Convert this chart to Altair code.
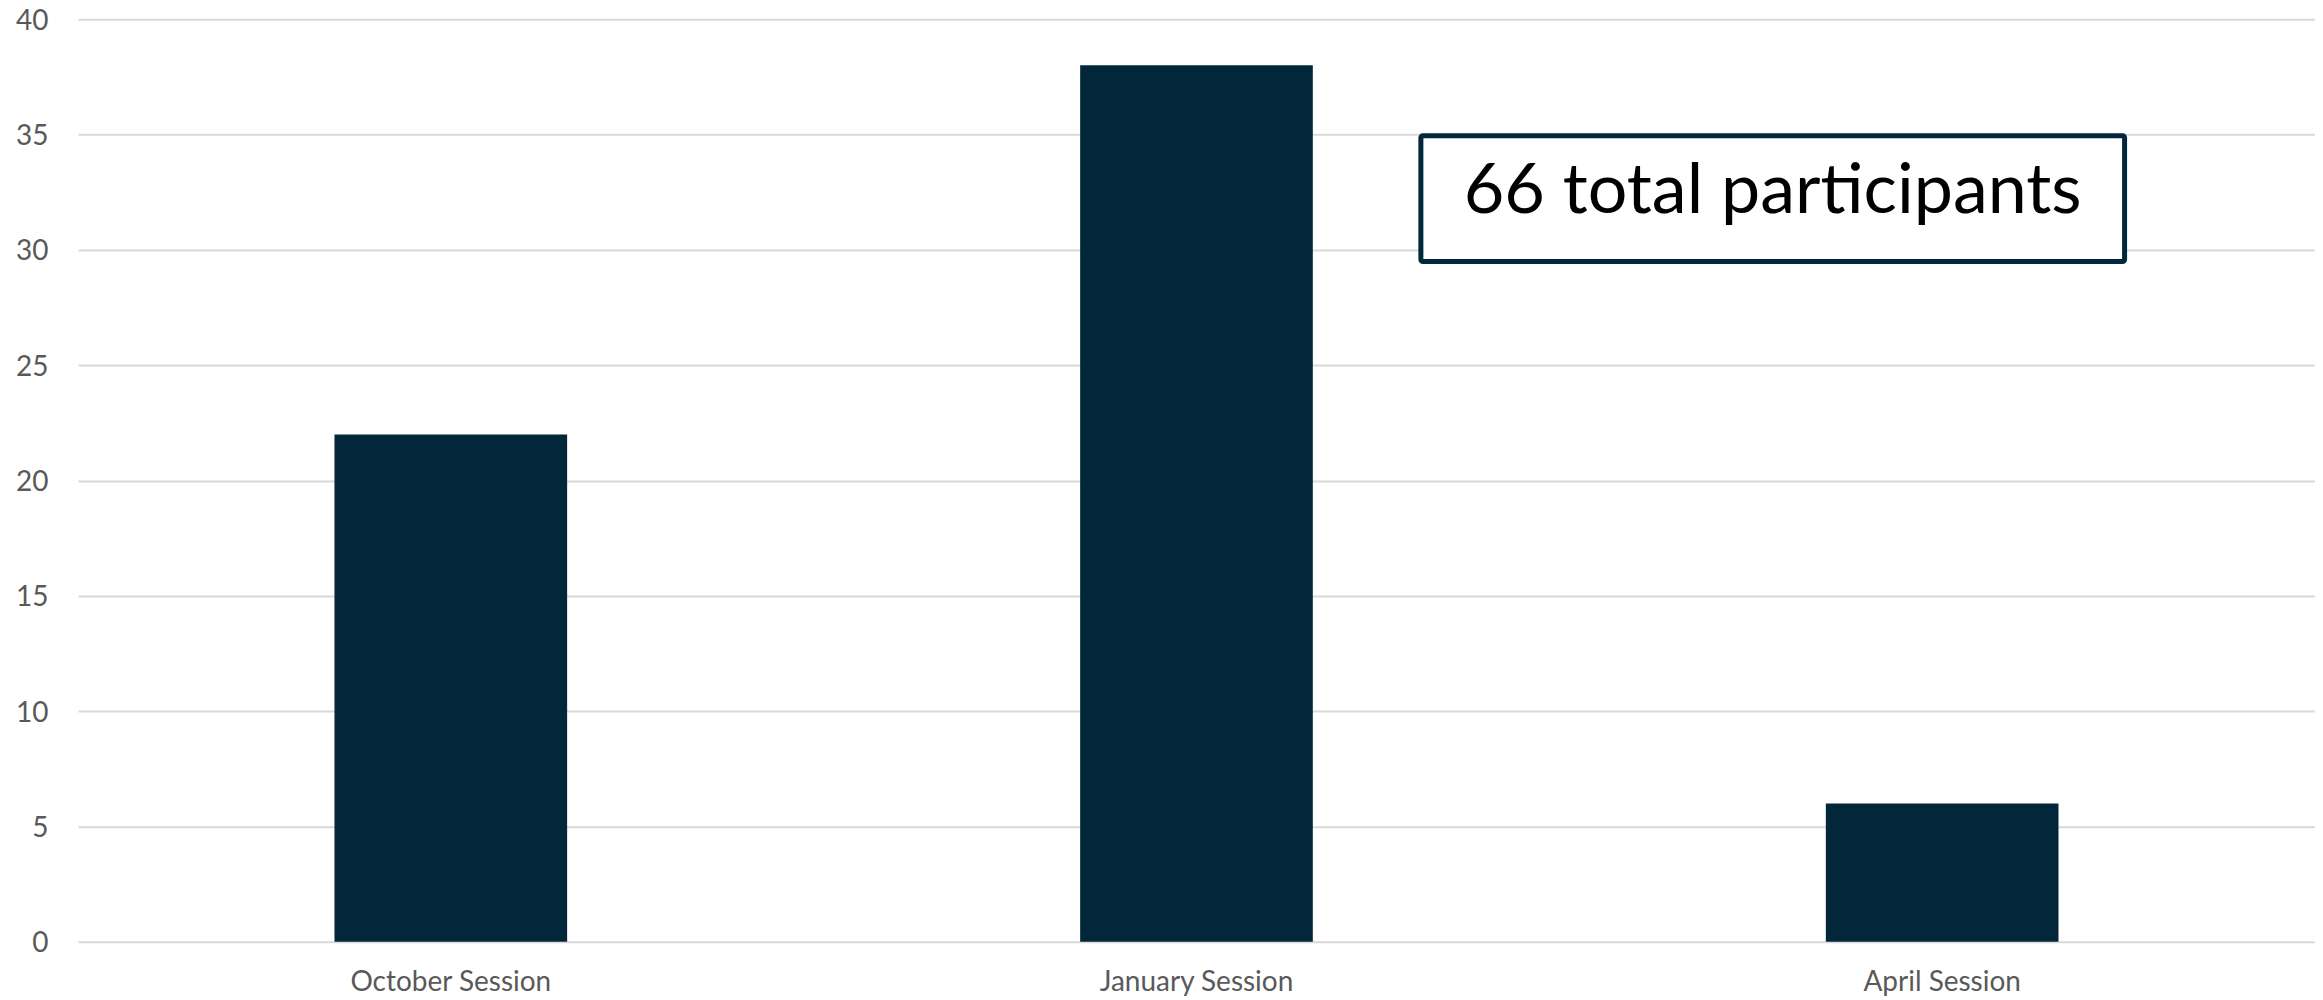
import altair as alt
import pandas as pd

sessions = ["October Session", "January Session", "April Session"]
participants = [22, 38, 6]
y_ticks = [0, 5, 10, 15, 20, 25, 30, 35, 40]

note_text = ["66 total participants"]
note_box_top = [34.95]
note_box_bottom = [29.49]
note_text_y = [31.6]

BAR_COLOR = "#02263A"
FONT = "Lato"

df = pd.DataFrame({"session": sessions, "count": participants})
box_df = pd.DataFrame({"top": note_box_top, "bottom": note_box_bottom})
txt_df = pd.DataFrame({"label": note_text, "y": note_text_y})

W, H = 2238, 923

y_scale = alt.Scale(domain=[0, 40], nice=False)

bars = alt.Chart(df).mark_bar(color=BAR_COLOR).encode(
    x=alt.X("session:N", sort=sessions, title=None,
            scale=alt.Scale(paddingInner=0.688, paddingOuter=0.344),
            axis=alt.Axis(labelAngle=0, ticks=False, domain=False, labelPadding=27,
                          labelLimit=0,
                          labelFont=FONT, labelFontSize=28, labelColor="#595959")),
    y=alt.Y("count:Q", title=None, scale=y_scale,
            axis=alt.Axis(values=y_ticks, ticks=False, domain=False, labelPadding=30,
                          labelOffset=2,
                          labelFont=FONT, labelFontSize=28, labelColor="#595959",
                          grid=True, gridColor="#D9D9D9", gridWidth=2)),
)

box = alt.Chart(box_df).mark_rect(fill="white", stroke=BAR_COLOR, strokeWidth=5,
                                   cornerRadius=2).encode(
    x=alt.value(1343.5), x2=alt.value(2047.5),
    y=alt.Y("top:Q", scale=y_scale), y2="bottom:Q",
)

txt = alt.Chart(txt_df).mark_text(font=FONT, fontSize=70, color="black",
                                  align="center", baseline="alphabetic").encode(
    x=alt.value(1695.5),
    y=alt.Y("y:Q", scale=y_scale),
    text="label:N",
)

chart = alt.layer(bars, box, txt).properties(
    width=W, height=H,
    autosize=alt.AutoSizeParams(type="none"),
    padding={"left": 70, "top": 11, "right": 0, "bottom": 58},
).configure_view(stroke=None)

chart.save("out.html", embed_options={"renderer": "svg", "actions": False})
